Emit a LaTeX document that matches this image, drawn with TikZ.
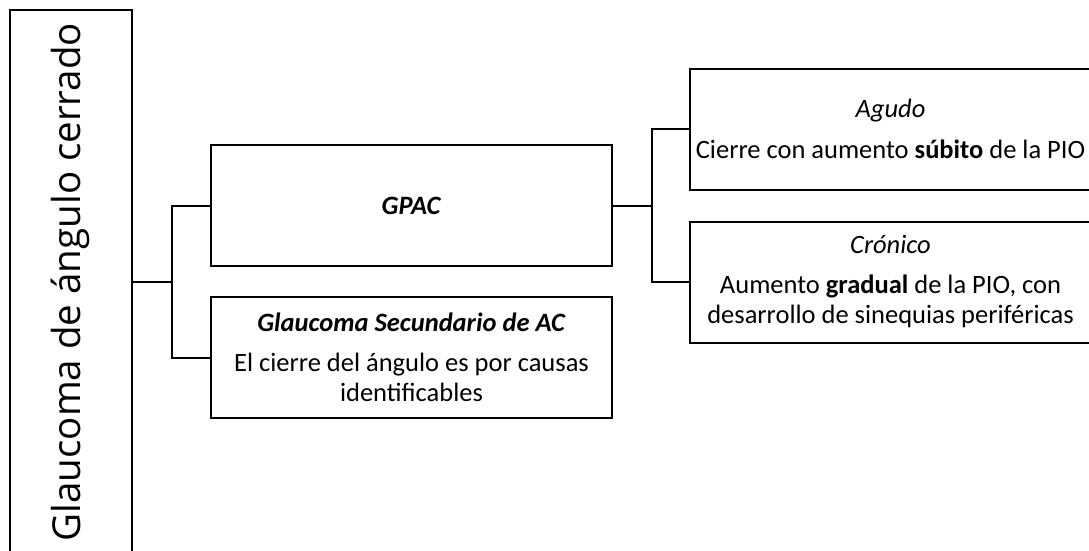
\documentclass[tikz,border=0pt]{standalone}
\usepackage{fontspec}
\setmainfont{Carlito}
\newfontfamily\rootfont{Open Sans}
\tikzset{
  box/.style={draw,line width=2pt,minimum width=401pt,minimum height=121pt,
    inner sep=0pt,align=center,font=\fontsize{26.5}{30}\selectfont},
  link/.style={line width=2pt}
}
\begin{document}
\begin{tikzpicture}[x=1pt,y=-1pt]
\clip (0,0) rectangle (1089,550);
\node[draw,line width=2pt,rotate=90,minimum width=544pt,minimum height=122pt,inner sep=0pt,
  font=\rootfont\fontsize{38.5}{46}\selectfont] (root) at (70.5,282) {Glaucoma de ángulo cerrado};
\node[box] (gpac) at (411.5,205.5) {\textbf{\textit{GPAC}}};
\node[box] (sec) at (411.5,357.5) {\textbf{\textit{Glaucoma Secundario de AC}}\\[10pt]El cierre del ángulo es por causas\\identificables};
\node[box] (agudo) at (890.5,129) {\textit{Agudo}\\[11pt]Cierre con aumento \textbf{súbito} de la PIO};
\node[box] (cron) at (890.5,282) {\textit{Crónico}\\[10pt]Aumento \textbf{gradual} de la PIO, con\\desarrollo de sinequias periféricas};
\coordinate (j1) at (172,282);
\coordinate (j2) at (652,205.5);
\draw[link] (root.south) -- (j1);
\draw[link] (gpac.west) -| (j1) |- (sec.west);
\draw[link] (gpac.east) -- (j2);
\draw[link] (agudo.west) -| (j2) |- (cron.west);
\end{tikzpicture}
\end{document}
